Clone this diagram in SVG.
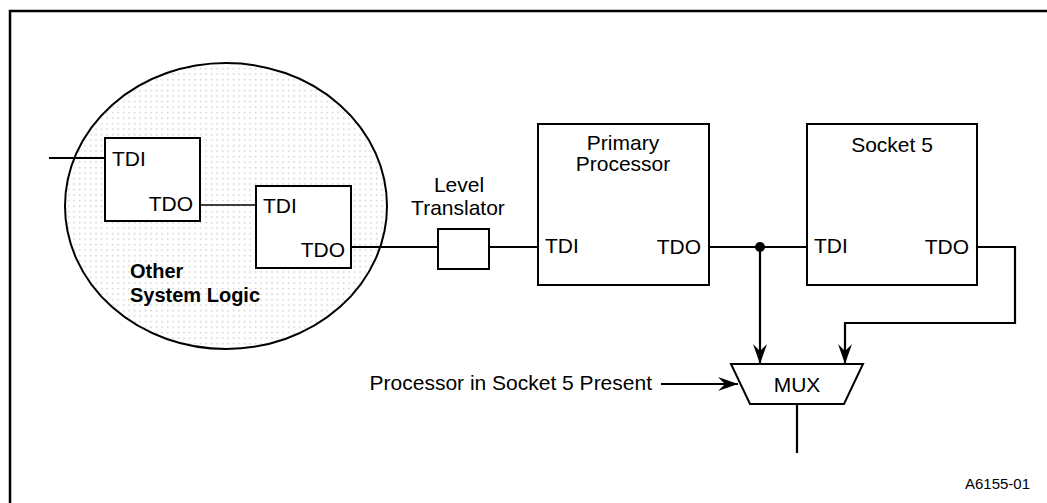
<svg xmlns="http://www.w3.org/2000/svg" width="1047" height="503" viewBox="0 0 1047 503">
  <style>
    .box { fill: #ffffff; stroke: #000000; stroke-width: 2; }
    .wire { fill: none; stroke: #000000; stroke-width: 2.2; }
    .thin { fill: none; stroke: #000000; stroke-width: 1.6; }
    text { font-family: "Liberation Sans", Arial, Helvetica, sans-serif; font-size: 21px; fill: #000000; }
    .bold { font-weight: bold; font-size: 20px; }
    .mid { text-anchor: middle; }
    .end { text-anchor: end; }
    .tag { font-size: 15px; }
  </style>
  <defs>
    <pattern id="stipple" x="0" y="0" width="5.5" height="5.5" patternUnits="userSpaceOnUse">
      <rect x="2" y="2" width="1.2" height="1.2" fill="#b4b4b4"/>
    </pattern>
    <marker id="arrow" viewBox="0 0 20 14" refX="20" refY="7" markerWidth="20" markerHeight="14" markerUnits="userSpaceOnUse" orient="auto">
      <path d="M0,0 L20,7 L0,14 L7,7 Z" fill="#000000"/>
    </marker>
  </defs>

  <rect fill="#ffffff" x="0" y="0" width="1047" height="503"/>

  <!-- frame -->
  <rect x="10" y="11" width="1060" height="520" fill="none" stroke="#000000" stroke-width="2.5"/>

  <!-- other system logic cloud -->
  <g id="other-system-logic">
    <ellipse cx="226" cy="206" rx="161" ry="143" fill="url(#stipple)" stroke="#000000" stroke-width="2"/>
    <text class="bold" x="130" y="278">Other</text>
    <text class="bold" x="130" y="302">System Logic</text>
  </g>

  <!-- connectors -->
  <g id="connectors">
    <line class="wire" x1="49" y1="158" x2="105" y2="158"/>
    <line class="thin" x1="200" y1="205" x2="256" y2="205"/>
    <line class="wire" x1="351" y1="247" x2="438" y2="247"/>
    <line class="wire" x1="489" y1="247" x2="538" y2="247"/>
    <line class="wire" x1="709" y1="247" x2="807" y2="247"/>
    <circle cx="760" cy="247" r="5" fill="#000000"/>
    <line class="wire" x1="760" y1="247" x2="760" y2="364" marker-end="url(#arrow)"/>
    <polyline class="wire" points="977,247 1015,247 1015,323 845,323 845,364" marker-end="url(#arrow)"/>
    <line class="wire" x1="661" y1="384" x2="738" y2="384" marker-end="url(#arrow)"/>
    <line class="wire" x1="797" y1="405" x2="797" y2="453"/>
  </g>

  <g id="tap-1">
    <rect class="box" x="105" y="138" width="95" height="83"/>
    <text x="112" y="166">TDI</text>
    <text class="end" x="193" y="211">TDO</text>
  </g>

  <g id="tap-2">
    <rect class="box" x="256" y="186" width="95" height="82"/>
    <text x="263" y="213">TDI</text>
    <text class="end" x="345" y="257">TDO</text>
  </g>

  <g id="level-translator">
    <rect class="box" x="438" y="229" width="51" height="40"/>
    <text class="mid" x="459" y="192">Level</text>
    <text class="mid" x="458" y="215">Translator</text>
  </g>

  <g id="primary-processor">
    <rect class="box" x="538" y="124" width="171" height="161"/>
    <text class="mid" x="623" y="150">Primary</text>
    <text class="mid" x="623" y="171">Processor</text>
    <text x="545" y="253">TDI</text>
    <text class="end" x="701" y="254">TDO</text>
  </g>

  <g id="socket-5">
    <rect class="box" x="807" y="124" width="170" height="161"/>
    <text class="mid" x="892" y="152">Socket 5</text>
    <text x="814" y="253">TDI</text>
    <text class="end" x="969" y="254">TDO</text>
  </g>

  <g id="mux">
    <polygon class="box" points="731,364 863,364 844,404 750,404"/>
    <text class="mid" x="797" y="392">MUX</text>
  </g>

  <g id="select-label">
    <text class="end" x="652" y="390">Processor in Socket 5 Present</text>
  </g>

  <text class="tag end" x="1030" y="489">A6155-01</text>
</svg>
